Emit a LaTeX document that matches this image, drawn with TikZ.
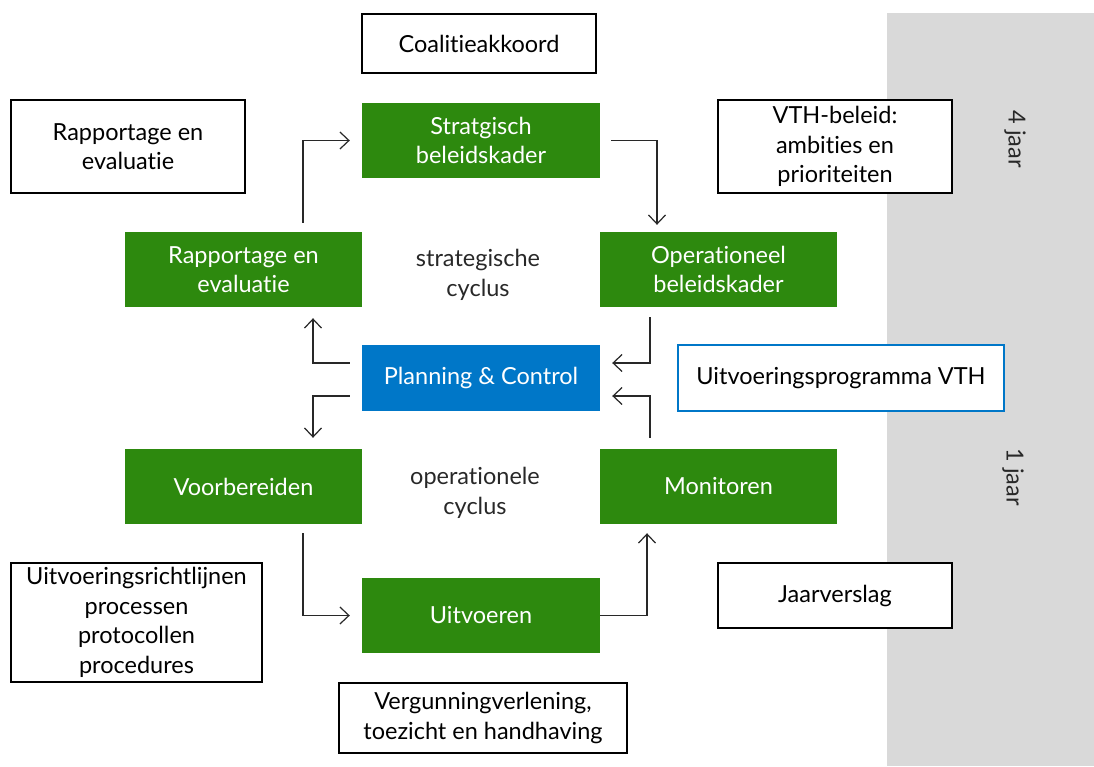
\documentclass[tikz,border=0pt]{standalone}
\usepackage{fontspec}
\setmainfont{Lato}[Ligatures=NoCommon]
\usetikzlibrary{arrows.meta}
\definecolor{vgreen}{RGB}{45,137,14}
\definecolor{vblue}{RGB}{0,119,200}
\definecolor{band}{RGB}{217,217,217}
\definecolor{ink}{RGB}{40,40,40}
\tikzset{
  base/.style={rectangle,inner sep=0pt,align=center,font=\fontsize{23.5}{29.5}\selectfont},
  wbox/.style={base,draw=black,line width=1.3pt,fill=white,text=black},
  gbox/.style={base,fill=vgreen,text=white,minimum width=237pt,minimum height=75pt},
  bbox/.style={base,fill=vblue,text=white},
  lbl/.style={base,text=ink},
  arr/.style={draw=ink,line width=1.2pt,-{Straight Barb[length=9pt,width=17pt,line width=1.2pt]}},
}
\begin{document}
\begin{tikzpicture}[x=1pt,y=-1pt]
\useasboundingbox (0,0) rectangle (1094,766);
\fill[band] (887,13) rectangle (1094,766);
\node[lbl,rotate=-90] (four) at (1015,139) {4 jaar};
\node[lbl,rotate=-90] (one) at (1013,477) {1 jaar};

\node[wbox,minimum width=234pt,minimum height=59pt] (coal) at (479,43.5) {Coalitieakkoord};
\node[wbox,minimum width=234pt,minimum height=93pt] (rep1) at (128,146.5) {Rapportage en\\evaluatie};
\node[gbox,minimum width=238pt] (strat) at (481,140.5) {Stratgisch\\beleidskader};
\node[wbox,minimum width=234pt,minimum height=93pt] (vth) at (835,146.5) {VTH-beleid:\\ambities en\\prioriteiten};
\node[gbox] (rep2) at (243.5,269.5) {Rapportage en\\evaluatie};
\node[lbl] (strcyc) at (478,275) {strategische\\cyclus};
\node[gbox] (oper) at (718.5,269.5) {Operationeel\\beleidskader};
\node[bbox,minimum width=238pt,minimum height=66pt] (pc) at (481,378) {Planning \& Control};
\node[wbox,draw=vblue,line width=2pt,minimum width=326pt,minimum height=66pt] (uvp) at (841,378) {Uitvoeringsprogramma VTH};
\node[gbox] (voor) at (243.5,486.5) {Voorbereiden};
\node[lbl] (opcyc) at (475,493) {operationele\\cyclus};
\node[gbox] (mon) at (718.5,486.5) {Monitoren};
\node[wbox,minimum width=251pt,minimum height=119pt] (uvr) at (136.5,622.5) {Uitvoeringsrichtlijnen\\processen\\protocollen\\procedures};
\node[gbox,minimum width=238pt] (uitv) at (481,615.5) {Uitvoeren};
\node[wbox,minimum width=234pt,minimum height=65pt] (jaar) at (835,595.5) {Jaarverslag};
\node[wbox,minimum width=288pt,minimum height=70pt] (verg) at (483,718) {Vergunningverlening,\\toezicht en handhaving};

\draw[arr] ([xshift=59.5pt,yshift=9pt]rep2.north) |- ([xshift=-12pt]strat.west);
\draw[arr] ([xshift=11pt]strat.east) -| ([xshift=-61.5pt,yshift=7pt]oper.north);
\draw[arr] ([xshift=-68.5pt,yshift=-10pt]oper.south) |- ([xshift=12pt,yshift=15pt]pc.east);
\draw[arr] ([xshift=-68.5pt,yshift=11pt]mon.north) |- ([xshift=12pt,yshift=-18pt]pc.east);
\draw[arr] ([xshift=-12pt,yshift=15pt]pc.west) -| ([xshift=69.5pt,yshift=-11pt]rep2.south);
\draw[arr] ([xshift=-12pt,yshift=-18pt]pc.west) -| ([xshift=69.5pt,yshift=11pt]voor.north);
\draw[arr] ([xshift=59.5pt,yshift=-9pt]voor.south) |- ([xshift=-12pt]uitv.west);
\draw[arr] (uitv.east) -| ([xshift=-71.5pt,yshift=-9pt]mon.south);
\end{tikzpicture}
\end{document}
